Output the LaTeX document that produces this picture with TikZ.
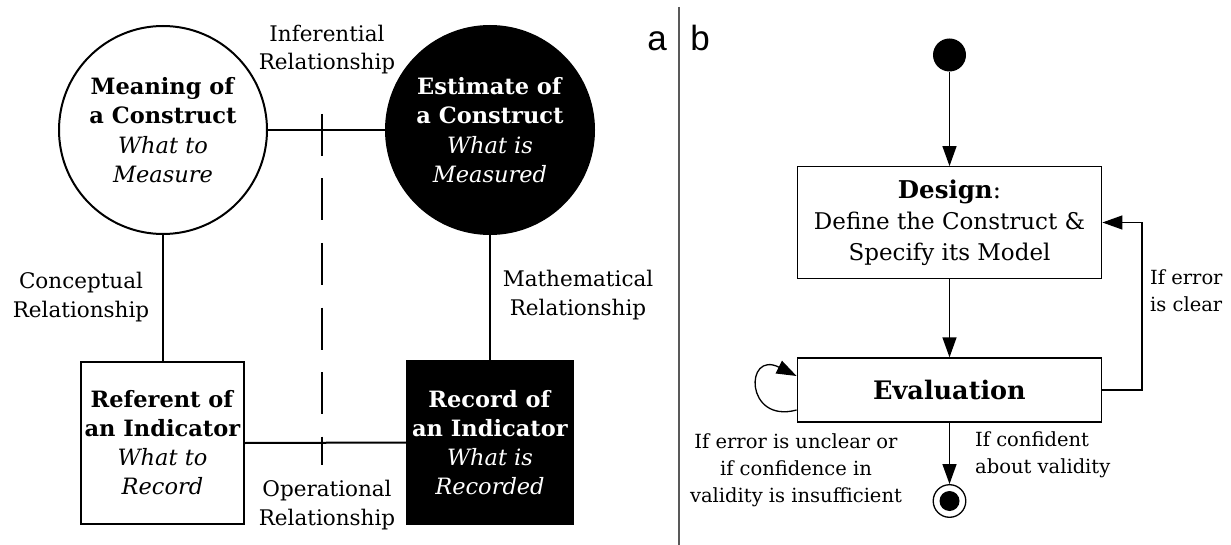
\documentclass[tikz,border=0pt]{standalone}
\usepackage{fontspec}
\setmainfont{DejaVu Serif}
\newfontfamily\panelfont{Liberation Sans}
\usetikzlibrary{arrows.meta,calc}

\begin{document}
\begin{tikzpicture}[x=1pt,y=-1pt,
  conn/.style={line width=2pt},
  construct/.style={circle, draw, line width=2pt, minimum size=208pt, inner sep=0pt,
    align=center, font=\fontsize{22.5}{29.5}\selectfont},
  indicator/.style={rectangle, draw, line width=2pt, inner sep=0pt,
    align=center, font=\fontsize{22.5}{29}\selectfont},
  dark/.style={fill=black, text=white},
  rel/.style={align=center, inner sep=0pt, font=\fontsize{21.5}{28.5}\selectfont},
  flow/.style={line width=1.3pt, -{Triangle[length=20pt,width=14pt]}},
  stepbox/.style={rectangle, draw, line width=1.3pt, inner sep=0pt,
    minimum width=304.5pt, align=center, font=\fontsize{23}{31}\selectfont},
  cond/.style={inner sep=0pt, font=\fontsize{19.5}{27}\selectfont},
  panel/.style={inner sep=0pt, font=\panelfont\fontsize{35}{40}\selectfont}
]
\useasboundingbox (0,0) rectangle (1231,545);

% ---------- panel a ----------
\node[construct, fill=white] (mean) at (163,130)
  {\textbf{Meaning of}\\\textbf{a Construct}\\\textit{What to}\\\textit{Measure}};
\node[construct, dark] (est) at (490,130)
  {\textbf{Estimate of}\\\textbf{a Construct}\\\textit{What is}\\\textit{Measured}};
\node[indicator, minimum width=163pt, minimum height=162pt] (ref) at (162.5,443)
  {\textbf{Referent of}\\\textbf{an Indicator}\\\textit{What to}\\\textit{Record}};
\node[indicator, dark, minimum width=166pt, minimum height=163pt] (rec) at (490,442.5)
  {\textbf{Record of}\\\textbf{an Indicator}\\\textit{What is}\\\textit{Recorded}};

\draw[conn] (mean) -- (est);
\draw[conn] (mean.south) -- (mean.south |- ref.north);
\draw[conn] (est.south) -- (rec.north);
\draw[conn] (ref.east) -- (rec.west);

% separation between concept and record sides
\coordinate (dtop) at (322,114);
\coordinate (dbot) at (322,465);
\draw[line width=2pt, dash pattern=on 42pt off 22.5pt] (dtop) -- (dbot);

% multi-line labels: base anchor sits on the last line
\node[rel, anchor=base] (infer) at (327,70) {Inferential\\Relationship};
\node[rel, anchor=base] (concept) at (81,317) {Conceptual\\Relationship};
\node[rel, anchor=base] (math) at (578,315) {Mathematical\\Relationship};
\node[rel, anchor=base] (oper) at (327,525) {Operational\\Relationship};

% ---------- divider and panel letters ----------
\coordinate (sepTop) at (679,7);
\coordinate (sepBot) at (679,545);
\draw[line width=1.1pt, black!65] (sepTop) -- (sepBot);
\node[panel, anchor=base] (pa) at (657,51) {a};
\node[panel, anchor=base] (pb) at (700,51) {b};

% ---------- panel b ----------
\node[circle, fill=black, minimum size=33pt, inner sep=0pt] (start) at (949.5,55) {};
\node[stepbox, minimum height=111.5pt] (design) at (949.5,222.5)
  {{\fontsize{24.5}{31}\selectfont\textbf{Design}:}\\Define the Construct \&\\Specify its Model};
\node[stepbox, minimum height=64pt, font=\fontsize{25.5}{31}\selectfont] (eval) at (949.5,390) {\textbf{Evaluation}};
\node[circle, draw, line width=1.3pt, minimum size=32.6pt, inner sep=0pt] (stop) at (949.5,501) {};
\fill (stop.center) circle (10pt);

\draw[flow] (start) -- (design);
\draw[flow] (design) -- (eval);
\draw[flow] (eval) -- (stop);
\draw[flow] (eval.east) -- ++(39.5,0) |- (design.east);
\draw[flow] ($(eval.west)+(0,20)$) .. controls ($(eval.west)+(-52,34)$) and ($(eval.west)+(-52,-40)$) .. ($(eval.west)+(0,-14)$);

\node[cond, align=left, anchor=base west] (clear) at (1150,312) {If error\\is clear};
\node[cond, align=left, anchor=base west] (valid) at (975,473) {If confident\\about validity};
\node[cond, align=center, anchor=base] (unclear) at (796,502)
  {If error is unclear or\\if confidence in\\validity is insufficient};
\end{tikzpicture}
\end{document}
